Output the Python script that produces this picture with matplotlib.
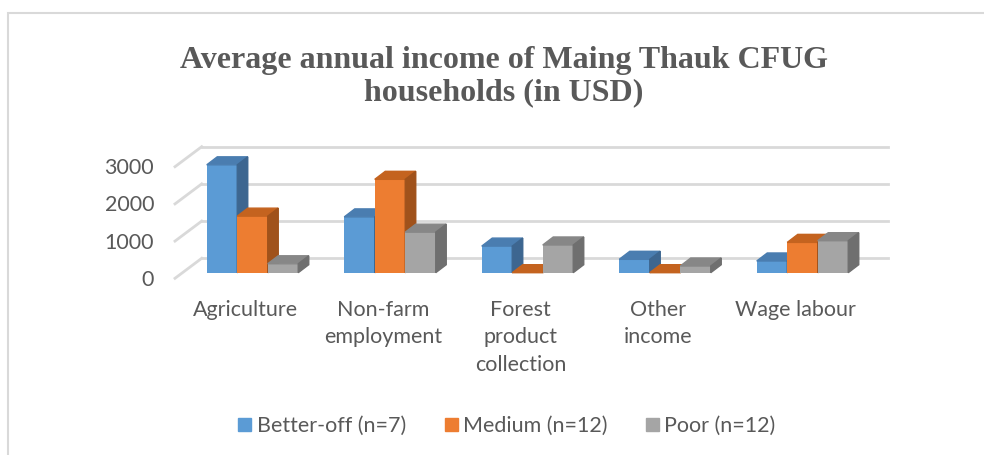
import matplotlib.pyplot as plt
from matplotlib.patches import Polygon, Rectangle, Patch
import numpy as np

# data (USD per household)
categories = ['Agriculture', 'Non-farm\nemployment', 'Forest\nproduct\ncollection',
              'Other\nincome', 'Wage labour']
better_off = [2900, 1500, 715, 360, 315]
medium = [1520, 2510, 0, 0, 815]
poor = [240, 1090, 745, 180, 860]
series_names = ['Better-off (n=7)', 'Medium (n=12)', 'Poor (n=12)']
yticks = [0, 1000, 2000, 3000]

front_colors = ['#5B9BD5', '#ED7D31', '#A5A5A5']
top_colors = ['#4A7DB0', '#C4631F', '#878787']
side_colors = ['#3D6690', '#A0521B', '#6F6F6F']
txt = '#595959'
grid = '#D9D9D9'

W, H = 984, 455
fig = plt.figure(figsize=(W / 100, H / 100), dpi=100)
ax = fig.add_axes([0, 0, 1, 1])
ax.axis('off')

# map data so one category = 137.5 px, 1000 USD = 37.2 px
px_cat = 137.5
px_k = 37.2
x0, y0 = 252.5, 272.7
ax.set_xlim(-x0 / px_cat, (W - x0) / px_cat)
ax.set_ylim((y0 - H) * 1000 / px_k, y0 * 1000 / px_k)

def dx(p):
    return p / px_cat

def dy(p):
    return p * 1000 / px_k

# chart border (only left/top visible)
fig.patches.append(Rectangle((8 / W, -0.1), 1.2, (H - 13) / H + 0.1, transform=fig.transFigure,
                             fill=False, edgecolor=grid, lw=1.5))

# side wall diagonals + back wall gridlines
xl_front, xl_back, x_right = dx(175 - x0), dx(201.7 - x0), dx(888 - x0)
off_front, off_back = dy(-5.6), dy(14.4)
for v in yticks:
    ax.plot([xl_front, xl_back], [v + off_front, v + off_back], color=grid, lw=2, zorder=1)
    ax.plot([xl_back, x_right], [v + off_back, v + off_back], color=grid, lw=2, zorder=1)
    ax.text(dx(154 - x0), v + off_front - dy(1.5), str(v), ha='right', va='center',
            fontsize=15.5, color=txt, family='Lato')

# 3D-looking bars
x = np.arange(len(categories))
w = dx(30.5)
ddx, ddy = dx(10.5), dy(8)
for s, vals in enumerate([better_off, medium, poor]):
    pos = x + (s - 1) * w
    ax.bar(pos, vals, width=w, color=front_colors[s], zorder=3 + s)
    for p, v in zip(pos, vals):
        l, r = p - w / 2, p + w / 2
        ax.add_patch(Polygon([(l, v), (r, v), (r + ddx, v + ddy), (l + ddx, v + ddy)],
                             closed=True, color=top_colors[s], zorder=3 + s))
        ax.add_patch(Polygon([(r, 0), (r, v), (r + ddx, v + ddy), (r + ddx, ddy)],
                             closed=True, color=side_colors[s], zorder=3 + s))

# category labels
for i, c in enumerate(categories):
    ax.text(i - dx(7), dy(y0 - 300), c, ha='center', va='top', fontsize=15.5,
            color=txt, family='Lato', linespacing=1.46)

fig.text(503.5 / W, 1 - 76.5 / H, 'Average annual income of Maing Thauk CFUG\nhouseholds (in USD)',
         ha='center', va='center', fontsize=23, fontweight='bold', color=txt,
         family='Liberation Serif', linespacing=1.12)

handles = [Patch(color=c) for c in front_colors]
fig.legend(handles, series_names, loc='center', bbox_to_anchor=(507 / W, 1 - 426 / H),
           ncol=3, frameon=False, handlelength=0.6, handleheight=0.6, handletextpad=0.25,
           columnspacing=1.8, prop={'family': 'Lato', 'size': 15.5}, labelcolor=txt)

fig.savefig('out.png', dpi=100)
